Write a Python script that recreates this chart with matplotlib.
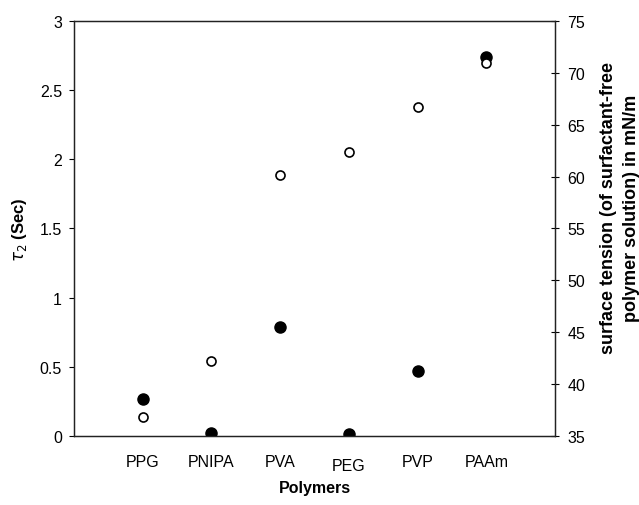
import matplotlib.pyplot as plt
from matplotlib.transforms import ScaledTranslation

plt.rcParams['font.family'] = ['Liberation Sans', 'DejaVu Sans']

polymers = ['PPG', 'PNIPA', 'PVA', 'PEG', 'PVP', 'PAAm']
tau2 = [0.27, 0.02, 0.79, 0.015, 0.47, 2.74]              # filled, left axis
surface_tension = [36.8, 42.2, 60.2, 62.4, 66.7, 71.0]    # open, right axis

fig = plt.figure(figsize=(6.39, 5.06), dpi=100)
ax = fig.add_axes([0.1158, 0.1364, 0.7527, 0.8201])
ax2 = ax.twinx()

x = list(range(1, len(polymers) + 1))

ax.plot(x, tau2, 'o', color='black', markersize=8, zorder=3)
ax2.plot(x, surface_tension, 'o', markerfacecolor='white', markeredgecolor='black',
         markeredgewidth=1.2, markersize=6.5, zorder=2)

ax.set_xlim(0, 7)
ax.set_ylim(0, 3)
ax2.set_ylim(35, 75)
ax.set_xticks(x)
ax.set_xticklabels(polymers, fontsize=11.5)
ax.tick_params(axis='x', length=0, pad=13)
# PEG label sits a bit lower in the original
for lbl in ax.get_xticklabels():
    if lbl.get_text() == 'PEG':
        lbl.set_transform(lbl.get_transform() + ScaledTranslation(0, -0.04, fig.dpi_scale_trans))

ax.set_yticks([0, 0.5, 1, 1.5, 2, 2.5, 3])
ax.set_yticklabels(['0', '0.5', '1', '1.5', '2', '2.5', '3'])
ax.tick_params(axis='y', labelsize=11.5, length=3.6, direction='out', pad=5)
ax2.set_yticks(range(35, 80, 5))
ax2.tick_params(axis='y', labelsize=11.5, length=5.8, direction='inout', pad=6)

for a in (ax, ax2):
    for s in a.spines.values():
        s.set_linewidth(0.9)
        s.set_color('#222222')

ax.set_xlabel('Polymers', fontsize=11.5, fontweight='bold', labelpad=5)
ax.set_ylabel(r'$\tau_2$ (Sec)', fontsize=12, fontweight='bold', labelpad=8)
ax2.set_ylabel('surface tension (of surfactant-free\npolymer solution) in mN/m',
               fontsize=13, fontweight='bold', labelpad=11, linespacing=1.4)
ax2.yaxis.label.set_y(0.552)

fig.savefig('out.png', dpi=100)
